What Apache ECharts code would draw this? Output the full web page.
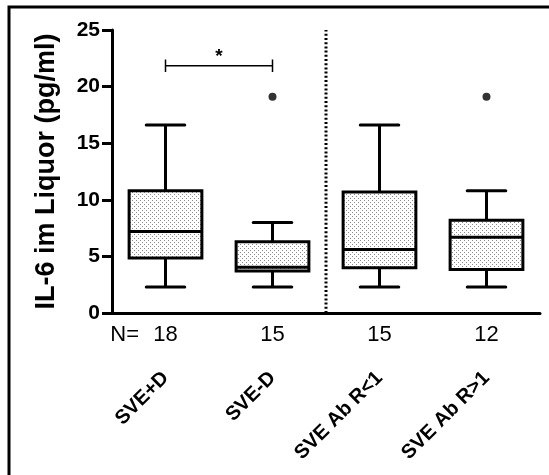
<!DOCTYPE html>
<html>
<head>
<meta charset="utf-8">
<script src="https://cdn.jsdelivr.net/npm/echarts@6/dist/echarts.min.js"></script>
<style>
  html, body { margin: 0; padding: 0; background: #fff; }
  #chart { width: 549px; height: 475px; }
</style>
</head>
<body>
<div id="chart"></div>
<script>
// Group names and sample sizes
const categories = ['SVE+D', 'SVE-D', 'SVE Ab R<1', 'SVE Ab R>1'];
const counts = [18, 15, 15, 12];

// Five-number summaries per group (pg/ml)
const whiskerLow  = [2.3, 2.3, 2.3, 2.3];
const q1          = [4.85, 3.7, 4.0, 3.85];
const medians     = [7.2, 4.05, 5.6, 6.7];
const q3          = [10.8, 6.3, 10.7, 8.2];
const whiskerHigh = [16.6, 8.0, 16.6, 10.8];

// Single points beyond the whiskers: [group index, value]
const outliers = [[1, 19.1], [3, 19.1]];

// Value axis ticks
const yTicks = [0, 5, 10, 15, 20, 25];

// Significance bracket between the first two groups
const sigPair = [0, 1];
const sigLevel = 21.85;
const sigTick = 0.55;
const sigMark = '*';

// Position (in group units) of the dotted separator between the two comparisons
const separatorAt = [2];

const FONT = "'Liberation Sans', Arial, Helvetica, sans-serif";

// Fine dotted fill used inside the boxes
const dotCanvas = document.createElement('canvas');
dotCanvas.width = 4;
dotCanvas.height = 4;
(function () {
  const ctx = dotCanvas.getContext('2d');
  ctx.fillStyle = '#fff';
  ctx.fillRect(0, 0, 4, 4);
  ctx.fillStyle = '#8c8c8c';
  ctx.fillRect(0, 0, 1, 1);
  ctx.fillRect(2, 2, 1, 1);
})();
const dotPattern = { image: dotCanvas, repeat: 'repeat' };

const boxData = categories.map((c, i) => [i, whiskerLow[i], q1[i], medians[i], q3[i], whiskerHigh[i]]);

function renderBox(params, api) {
  const i = api.value(0);
  const x = api.coord([i, 0])[0];
  const yLo = api.coord([i, api.value(1)])[1];
  const yQ1 = api.coord([i, api.value(2)])[1];
  const yMed = api.coord([i, api.value(3)])[1];
  const yQ3 = api.coord([i, api.value(4)])[1];
  const yHi = api.coord([i, api.value(5)])[1];
  const band = api.size([1, 0])[0];
  const hw = band * 0.34;
  const cw = band * 0.18;
  const ln = { stroke: '#000', lineWidth: 3 };
  const cap = { stroke: '#000', lineWidth: 3, lineCap: 'round' };
  return {
    type: 'group',
    children: [
      { type: 'line', shape: { x1: x, y1: yHi, x2: x, y2: yQ3 }, style: ln },
      { type: 'line', shape: { x1: x, y1: yQ1, x2: x, y2: yLo }, style: ln },
      { type: 'line', shape: { x1: x - cw, y1: yHi, x2: x + cw, y2: yHi }, style: cap },
      { type: 'line', shape: { x1: x - cw, y1: yLo, x2: x + cw, y2: yLo }, style: cap },
      { type: 'rect', shape: { x: x - hw, y: yQ3, width: 2 * hw, height: yQ1 - yQ3 },
        style: { fill: dotPattern, stroke: '#000', lineWidth: 3 } },
      { type: 'line', shape: { x1: x - hw, y1: yMed, x2: x + hw, y2: yMed }, style: ln }
    ]
  };
}

const sigLeft = sigPair[0] + 0.5;
const sigRight = sigPair[1] + 0.5;
const bracketData = [
  [sigLeft, sigLevel - sigTick], [sigLeft, sigLevel + sigTick], [sigLeft, sigLevel],
  [sigRight, sigLevel], [sigRight, sigLevel + sigTick], [sigRight, sigLevel - sigTick]
];

const chart = echarts.init(document.getElementById('chart'), null, { renderer: 'canvas' });

chart.setOption({
  animation: false,
  backgroundColor: '#fff',
  textStyle: { fontFamily: FONT },
  graphic: [{
    type: 'rect',
    shape: { x: 9, y: 7, width: 600, height: 600 },
    style: { fill: 'none', stroke: '#000', lineWidth: 3 },
    silent: true
  }],
  grid: { left: 112, right: 9, top: 30, bottom: 162, containLabel: false },
  xAxis: [
    {
      type: 'category',
      data: categories,
      boundaryGap: true,
      axisLine: { lineStyle: { color: '#000', width: 3 } },
      axisTick: { alignWithLabel: true, length: 10, lineStyle: { color: '#000', width: 3 } },
      axisLabel: {
        interval: 0,
        margin: 11,
        color: '#000',
        fontSize: 22,
        fontFamily: FONT,
        formatter: function (v, idx) {
          return idx === 0 ? '{pre|N=}' + counts[idx] + '{post|}' : String(counts[idx]);
        },
        rich: {
          pre: { fontSize: 22, fontFamily: FONT, color: '#000', width: 43, align: 'left' },
          post: { width: 43 }
        }
      },
      splitLine: { show: false }
    },
    {
      type: 'category',
      data: categories,
      position: 'bottom',
      boundaryGap: true,
      axisLine: { show: false },
      axisTick: { show: false },
      axisLabel: {
        rotate: 45,
        interval: 0,
        margin: 62,
        color: '#000',
        fontSize: 20,
        fontWeight: 'bold',
        fontFamily: FONT
      },
      splitLine: { show: false }
    },
    {
      type: 'value',
      min: 0,
      max: categories.length,
      show: false
    }
  ],
  yAxis: {
    type: 'value',
    min: yTicks[0],
    max: yTicks[yTicks.length - 1],
    interval: yTicks[1] - yTicks[0],
    name: 'IL-6 im Liquor (pg/ml)',
    nameLocation: 'middle',
    nameGap: 52,
    nameTextStyle: { color: '#000', fontSize: 27, fontWeight: 'bold', fontFamily: FONT },
    axisLine: { show: true, lineStyle: { color: '#000', width: 3 } },
    axisTick: { show: true, length: 10, lineStyle: { color: '#000', width: 3 } },
    axisLabel: { margin: 12, color: '#000', fontSize: 21, fontWeight: 'bold', fontFamily: FONT },
    splitLine: { show: false }
  },
  series: [
    {
      type: 'custom',
      xAxisIndex: 0,
      renderItem: renderBox,
      encode: { x: 0, y: [1, 2, 3, 4, 5] },
      data: boxData,
      z: 3
    },
    {
      type: 'scatter',
      xAxisIndex: 0,
      symbol: 'circle',
      symbolSize: 8,
      itemStyle: { color: '#000' },
      data: outliers,
      z: 4
    },
    {
      type: 'line',
      xAxisIndex: 2,
      data: separatorAt.flatMap(s => [[s, yTicks[0]], [s, yTicks[yTicks.length - 1]]]),
      symbol: 'none',
      lineStyle: { color: '#000', width: 3, type: [2, 2.2] },
      z: 2
    },
    {
      type: 'line',
      xAxisIndex: 2,
      data: bracketData,
      symbol: 'none',
      lineStyle: { color: '#000', width: 1.5 },
      markPoint: {
        symbol: 'circle',
        symbolSize: 0,
        data: [{ coord: [(sigLeft + sigRight) / 2, sigLevel] }],
        label: {
          show: true,
          position: 'top',
          distance: -1,
          formatter: sigMark,
          color: '#000',
          fontSize: 19,
          fontWeight: 'bold',
          fontFamily: FONT
        }
      },
      z: 2
    }
  ]
});
</script>
</body>
</html>
